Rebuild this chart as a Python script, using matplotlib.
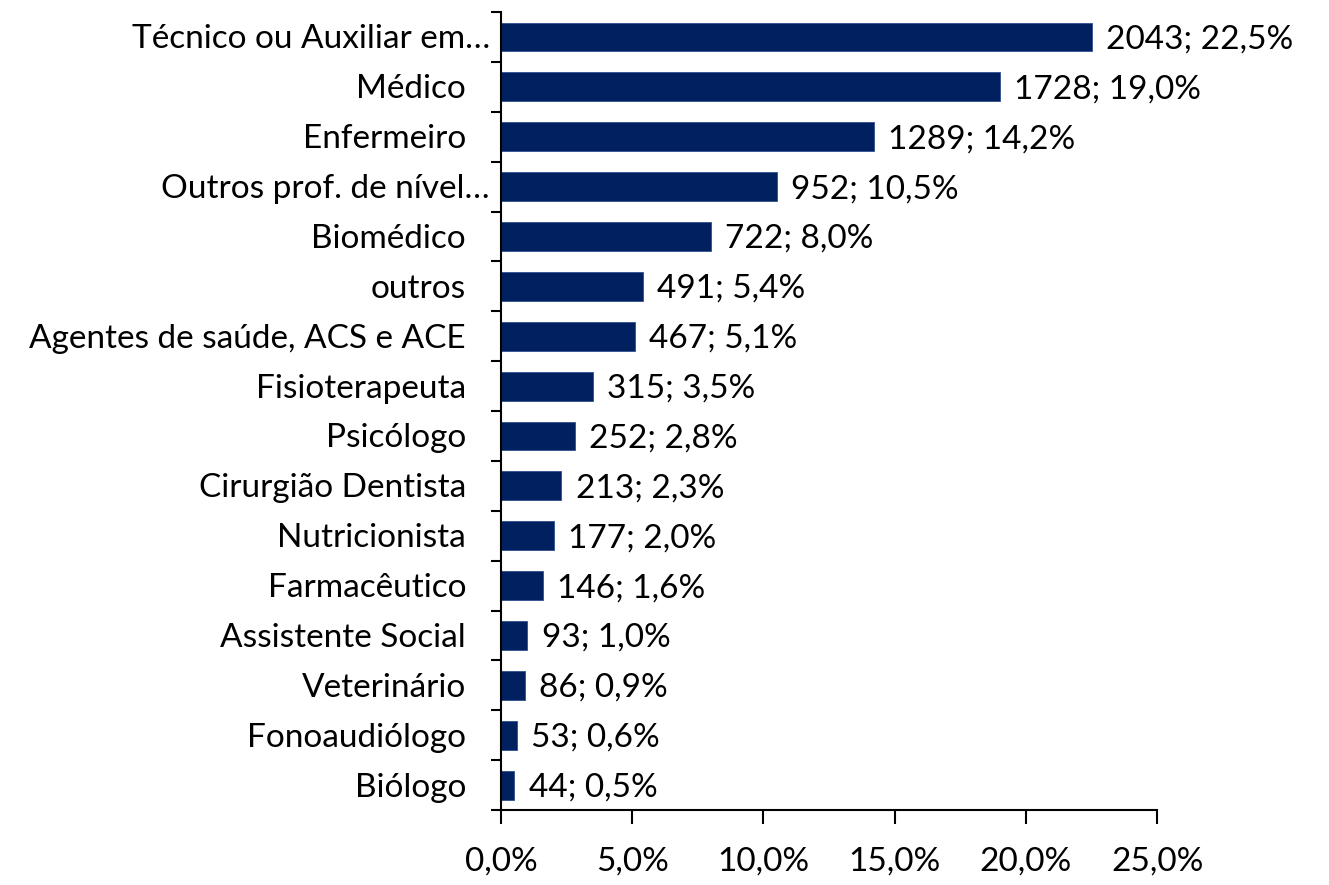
import matplotlib
matplotlib.use("Agg")
import matplotlib.pyplot as plt
import matplotlib.transforms as mtransforms
import numpy as np

plt.rcParams['font.family'] = ['Lato', 'DejaVu Sans']

##--- data
categorias = ['Técnico ou Auxiliar em…', 'Médico', 'Enfermeiro',
              'Outros prof. de nível…', 'Biomédico', 'outros',
              'Agentes de saúde, ACS e ACE', 'Fisioterapeuta', 'Psicólogo',
              'Cirurgião Dentista', 'Nutricionista', 'Farmacêutico',
              'Assistente Social', 'Veterinário', 'Fonoaudiólogo', 'Biólogo']
contagens = [2043, 1728, 1289, 952, 722, 491, 467, 315, 252, 213, 177, 146,
             93, 86, 53, 44]
percentuais = [22.5, 19.0, 14.2, 10.5, 8.0, 5.4, 5.1, 3.5, 2.8, 2.3, 2.0, 1.6,
               1.0, 0.9, 0.6, 0.5]
xticks = [0, 5, 10, 15, 20, 25]

cor = '#002060'
fs = 24

##--- plotting
fig = plt.figure(figsize=(13.29, 8.85), dpi=100)
ax = fig.add_axes([0.377, 0.0847, 0.4937, 0.9017])

# pequeno deslocamento vertical dos textos
desce = mtransforms.ScaledTranslation(0, -0.025, fig.dpi_scale_trans)

y = np.arange(len(categorias))
ax.barh(y, percentuais, height=0.58, color=cor, edgecolor='#2f4f8f', linewidth=0.6)

for yi, c, p in zip(y, contagens, percentuais):
    txt = f'{c}; {p:.1f}%'.replace('.', ',')
    ax.text(p + 0.55, yi, txt, va='center', ha='left', fontsize=fs,
            color='black', transform=ax.transData + desce)

ax.set_ylim(len(categorias) - 0.5, -0.5)
ax.set_xlim(0, 25)

# categorias (rótulos truncados ficam mais perto do eixo)
trans = mtransforms.blended_transform_factory(ax.transAxes, ax.transData)
for yi, nome in zip(y, categorias):
    gap = 11 if nome.endswith('…') else 35
    off = mtransforms.ScaledTranslation(-gap / 100, -0.025, fig.dpi_scale_trans)
    ax.text(0, yi, nome, transform=trans + off, ha='right', va='center',
            fontsize=fs, color='black')

ax.set_yticks([])
ax.set_yticks(np.arange(-0.5, len(categorias)), minor=True)
ax.tick_params(axis='y', which='minor', length=7, width=1.5, direction='out')

ax.set_xticks(xticks)
ax.set_xticklabels([f'{t:.1f}%'.replace('.', ',') for t in xticks], fontsize=fs)
ax.tick_params(axis='x', length=10, width=1.5, direction='out', pad=16)

for s in ['top', 'right']:
    ax.spines[s].set_visible(False)
for s in ['left', 'bottom']:
    ax.spines[s].set_linewidth(1.5)

fig.savefig('out.png', dpi=100)
